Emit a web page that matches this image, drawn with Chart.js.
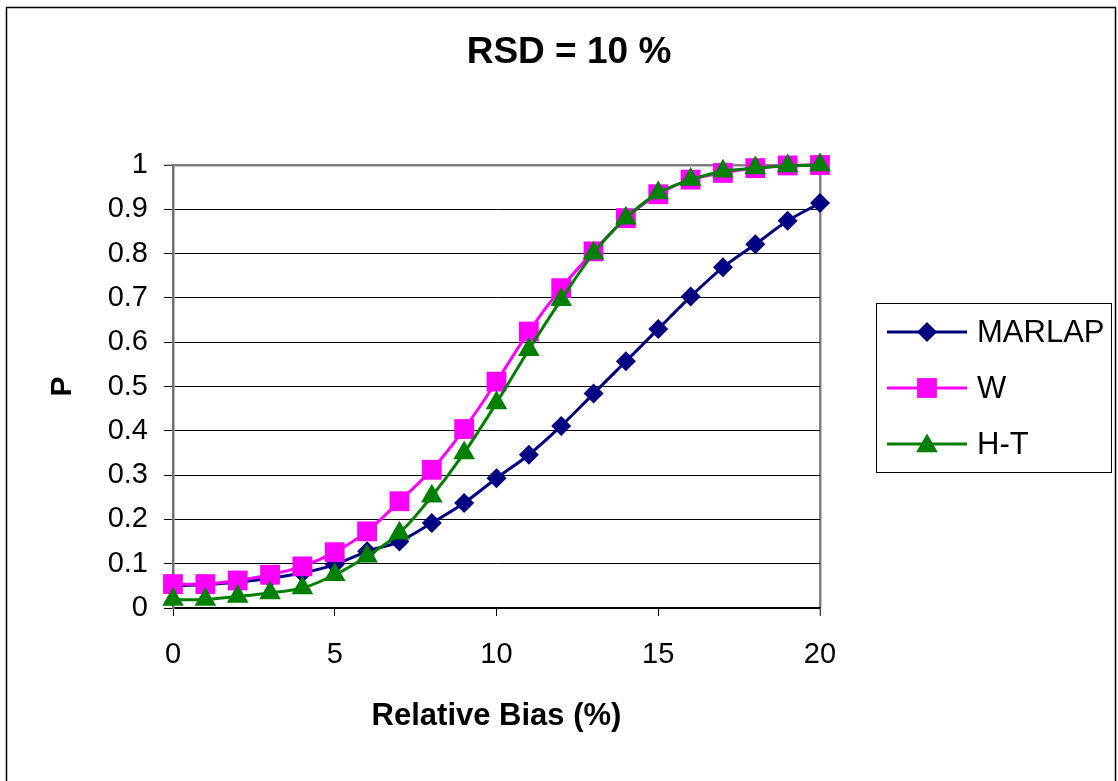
<!DOCTYPE html>
<html>
<head>
<meta charset="utf-8">
<script src="https://cdn.jsdelivr.net/npm/chart.js@4/dist/chart.umd.min.js"></script>
<style>
html,body{margin:0;padding:0;background:#fff;}
#wrap{position:relative;width:1118px;height:781px;}
canvas{display:block;}
</style>
</head>
<body>
<div id="wrap"><canvas id="c" width="1118" height="781"></canvas></div>
<script>
const chartTitle = 'RSD = 10 %';
const xTitle = 'Relative Bias (%)';
const yTitle = 'P';
const relBias = [0,1,2,3,4,5,6,7,8,9,10,11,12,13,14,15,16,17,18,19,20];
const marlap = [0.050,0.053,0.058,0.067,0.079,0.098,0.128,0.150,0.192,0.237,0.293,0.346,0.411,0.484,0.557,0.630,0.703,0.769,0.821,0.874,0.914];
const wVals  = [0.054,0.054,0.062,0.075,0.094,0.126,0.173,0.241,0.312,0.404,0.511,0.624,0.722,0.805,0.880,0.934,0.967,0.982,0.993,0.999,1.000];
const htVals = [0.019,0.019,0.026,0.034,0.045,0.075,0.117,0.169,0.252,0.350,0.463,0.583,0.696,0.801,0.880,0.937,0.967,0.986,0.993,0.998,1.000];
const seriesNames = ['MARLAP','W','H-T'];

const FONT = "'Liberation Sans', Arial, Helvetica, sans-serif";
const toXY = (arr) => arr.map((v,i) => ({x: relBias[i], y: v}));

const styles = [
  {color:'#000080', pointStyle:'rectRot', radius:10},
  {color:'#FF00FF', pointStyle:'rect', radius:14},
  {color:'#008000', pointStyle:'triangle', radius:12.5}
];

function drawMarker(ctx, style, x, y){
  const r = style.radius;
  ctx.beginPath();
  if (style.pointStyle === 'rectRot'){
    ctx.moveTo(x-r,y); ctx.lineTo(x,y-r); ctx.lineTo(x+r,y); ctx.lineTo(x,y+r);
  } else if (style.pointStyle === 'rect'){
    const s = r*Math.SQRT1_2; ctx.rect(x-s,y-s,2*s,2*s);
  } else {
    ctx.moveTo(x, y-r);
    ctx.lineTo(x + Math.sin(2*Math.PI/3)*r, y - Math.cos(2*Math.PI/3)*r);
    ctx.lineTo(x + Math.sin(4*Math.PI/3)*r, y - Math.cos(4*Math.PI/3)*r);
  }
  ctx.closePath();
  ctx.fillStyle = style.color; ctx.fill();
}

const framePlugin = {
  id:'frame',
  beforeDraw(chart){
    const ctx = chart.ctx;
    ctx.save();
    ctx.fillStyle = '#fff';
    ctx.fillRect(0,0,chart.width,chart.height);
    ctx.strokeStyle = '#000'; ctx.lineWidth = 1.5;
    ctx.strokeRect(6.5, 7.5, 1109, 800);
    ctx.restore();
  },
  afterDraw(chart){
    const ctx = chart.ctx;
    ctx.save();
    ctx.strokeStyle = '#000'; ctx.lineWidth = 1;
    ctx.strokeRect(876.5, 303.5, 235, 169);
    const rows = [332, 388, 444];
    seriesNames.forEach((name,i) => {
      const y = rows[i];
      ctx.strokeStyle = styles[i].color; ctx.lineWidth = 3;
      ctx.beginPath(); ctx.moveTo(887,y); ctx.lineTo(967,y); ctx.stroke();
      drawMarker(ctx, styles[i], 927, i === 2 ? y + 2 : y);
      ctx.fillStyle = '#000';
      ctx.font = '31px ' + FONT;
      ctx.textAlign = 'left'; ctx.textBaseline = 'middle';
      ctx.fillText(name, 977, y+1);
    });
    ctx.restore();
  }
};

const datasets = [marlap, wVals, htVals].map((arr,i) => ({
  label: seriesNames[i],
  data: toXY(arr),
  borderColor: styles[i].color,
  backgroundColor: styles[i].color,
  borderWidth: 3,
  pointStyle: styles[i].pointStyle,
  pointRadius: styles[i].radius,
  pointHoverRadius: styles[i].radius,
  pointBorderWidth: 0,
  pointBackgroundColor: styles[i].color,
  tension: 0.3,
  clip: false,
  order: 3 - i
}));

new Chart(document.getElementById('c'), {
  type: 'line',
  data: { datasets },
  options: {
    responsive: false,
    animation: false,
    events: [],
    layout: { padding: { left: 20, right: 0, top: 0, bottom: 0 } },
    plugins: {
      legend: { display: false },
      tooltip: { enabled: false },
      title: {
        display: true,
        text: chartTitle,
        color: '#000',
        font: { family: FONT, size: 37, weight: 'bold', lineHeight: 1.2 },
        padding: { top: 31, bottom: 89.6 }
      }
    },
    scales: {
      x: {
        type: 'linear',
        min: 0, max: 20,
        ticks: { stepSize: 5, color:'#000', padding: 22, font: { family: FONT, size: 29 } },
        grid: {
          drawOnChartArea: true,
          color: (c) => (c.tick && c.tick.value === 20) ? '#808080' : 'rgba(0,0,0,0)',
          lineWidth: (c) => (c.tick && c.tick.value === 20) ? 2.5 : 1,
          tickColor: '#000', tickWidth: 1, tickLength: 8
        },
        border: { display: true, color: '#000', width: 1.5 },
        title: { display: true, text: xTitle, color:'#000', font: { family: FONT, size: 31, weight: 'bold', lineHeight: 1.2 }, padding: { top: 0, bottom: 46 } },
        afterFit: (s) => { s.height = 173; }
      },
      y: {
        type: 'linear',
        min: 0, max: 1,
        ticks: { stepSize: 0.1, color:'#000', padding: 16, font: { family: FONT, size: 29 },
          callback: (v) => String(Math.round(v*10)/10) },
        grid: {
          color: (c) => (c.tick && c.tick.value === 1) ? '#808080' : '#000',
          lineWidth: (c) => (c.tick && c.tick.value === 1) ? 2.5 : 1,
          tickColor: '#000', tickWidth: 1, tickLength: 9
        },
        border: { display: true, color: '#707070', width: 2.5 },
        title: { display: true, text: yTitle, color:'#000', font: { family: FONT, size: 30, weight: 'bold', lineHeight: 1.2 }, padding: { top: 25, bottom: 0 } },
        afterFit: (s) => { s.width = 153; }
      },
      spacer: {
        type: 'linear',
        position: 'right',
        display: true,
        grid: { display: false, drawTicks: false },
        border: { display: false },
        ticks: { display: false },
        afterFit: (s) => { s.width = 298; }
      }
    }
  },
  plugins: [framePlugin]
});
</script>
</body>
</html>
